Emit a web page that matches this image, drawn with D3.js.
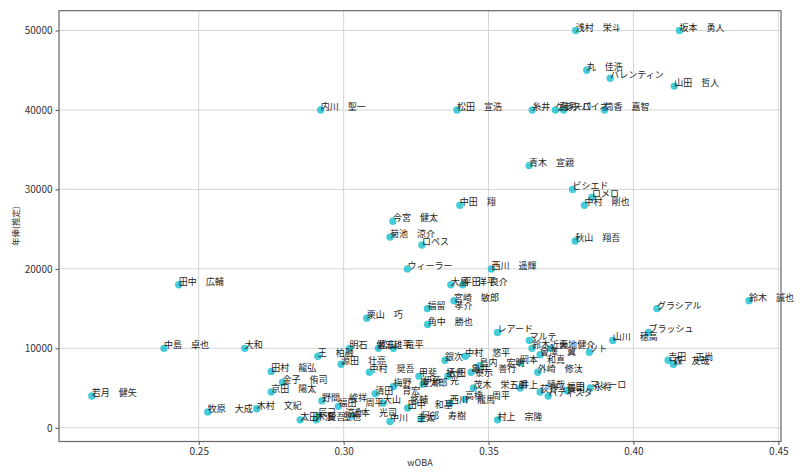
<!DOCTYPE html>
<html><head><meta charset="utf-8">
<script src="https://cdn.jsdelivr.net/npm/d3@7"></script>
<style>body{margin:0;background:#fff;} svg{display:block;}</style>
</head><body>
<svg id="chart" width="800" height="474"></svg>
<script>
const names = [
"浅村　栄斗","坂本　勇人","丸　佳浩","バレンティン","山田　哲人","内川　聖一","松田　宣浩","糸井　嘉男","ゲレーロ","デスパイネ",
"筒香　嘉智","青木　宣親","ビシエド","ロメロ","中村　剛也","中田　翔","今宮　健太","菊池　涼介","秋山　翔吾","ロペス",
"ウィーラー","西川　遥輝","田中　広輔","大島　洋平","平田　良介","宮崎　敏郎","鈴木　誠也","福留　孝介","グラシアル","栗山　巧",
"角中　勝也","ブラッシュ","レアード","マルテ","山川　穂高","中島　卓也","大和","明石　健志","松山　竜平","雄平",
"鈴木　大地","近藤　健介","會澤　翼","ソト","王　柏融","中村　悠平","銀次","吉田　正尚","森　友哉","源田　壮亮",
"岡本　和真","島内　宏明","田村　龍弘","中村　奨吾","亀井　善行","外崎　修汰","甲斐　拓也","大田　泰示","金子　侑司","伊藤　光",
"梅野　隆太郎","茂木　栄五郎","井上　晴哉","マレーロ","福田　永将","荻野　貴司","京田　陽太","清田　育宏","若月　健矢","バティスタ",
"高橋　周平","野間　峻祥","大山　悠輔","西川　龍馬","福田　周平","田中　和基","木村　文紀","牧原　大成","辰己　涼介","近本　光司",
"阿部　寿樹","太田　賢吾","木浪　聖也","村上　宗隆","中川　圭太"
];
const woba = [
0.3801,0.4159,0.3839,0.3920,0.4141,0.2921,0.3391,0.3651,0.3731,0.3759,
0.3900,0.3640,0.3790,0.3857,0.3831,0.3401,0.3170,0.3160,0.3799,0.3270,
0.3220,0.3510,0.2431,0.3370,0.3411,0.3381,0.4399,0.3289,0.4081,0.3080,
0.3290,0.4052,0.3531,0.3641,0.3929,0.2380,0.2659,0.3020,0.3120,0.3172,
0.3650,0.3713,0.3678,0.3848,0.2911,0.3420,0.3350,0.4120,0.4138,0.2991,
0.3609,0.3469,0.2750,0.3089,0.3440,0.3670,0.3260,0.3360,0.2789,0.3274,
0.3172,0.3448,0.3609,0.3851,0.3770,0.3678,0.2750,0.3109,0.2131,0.3706,
0.3419,0.2925,0.3136,0.3367,0.2982,0.3221,0.2700,0.2531,0.2912,0.3029,
0.3267,0.2850,0.2905,0.3531,0.3160
];
const salary = [
50000,50000,45000,44000,43000,40000,40000,40000,40000,40000,
40000,33000,30000,29000,28000,28000,26000,24000,23500,23000,
20000,20000,18000,18000,18000,16000,16000,15000,15000,13800,
13000,12000,12000,11000,11000,10000,10000,10000,10000,10000,
10000,10000,9200,9500,9000,9000,8500,8500,8000,8000,
8200,7800,7100,7000,7000,7000,6500,6500,5700,5500,
5200,5000,5000,5000,4700,4500,4500,4300,4000,4000,
3600,3400,3100,3100,2700,2500,2400,2000,1500,1500,
1100,1000,1000,1000,800
];
const xTicks = [0.25,0.30,0.35,0.40,0.45];
const yTicks = [0,10000,20000,30000,40000,50000];
const xLabel = "wOBA";
const yLabel = "年俸(推定)";

const svg = d3.select("#chart");
svg.append("rect").attr("width",800).attr("height",474).attr("fill","#fff");
const L=59,R=781,T=10.7,B=441.5;
const x = d3.scaleLinear().domain([0.20177,0.45093]).range([L,R]);
const y = d3.scaleLinear().domain([-1724,52492]).range([B,T]);
const font = "'Noto Sans CJK JP','Noto Sans',sans-serif";

// grid
const g = svg.append("g");
g.selectAll("line.gx").data(xTicks).join("line").attr("class","gx")
 .attr("x1",d=>x(d)).attr("x2",d=>x(d)).attr("y1",T).attr("y2",B)
 .attr("stroke","#d5d5d5").attr("stroke-width",1);
g.selectAll("line.gy").data(yTicks).join("line").attr("class","gy")
 .attr("y1",d=>y(d)).attr("y2",d=>y(d)).attr("x1",L).attr("x2",R)
 .attr("stroke","#d5d5d5").attr("stroke-width",1);

// axes
const xa = svg.append("g").attr("transform",`translate(0,${B})`)
 .call(d3.axisBottom(x).tickValues(xTicks).tickFormat(d3.format(".2f")).tickSize(3.5).tickPadding(3));
const ya = svg.append("g").attr("transform",`translate(${L},0)`)
 .call(d3.axisLeft(y).tickValues(yTicks).tickFormat(d3.format("d")).tickSize(3.5).tickPadding(3));
[xa,ya].forEach(a=>{
  a.select(".domain").remove();
  a.selectAll(".tick line").attr("stroke","#555");
  a.selectAll(".tick text").attr("fill","#333").style("font-family",font).style("font-size","10px");
});

// frame
svg.append("rect").attr("x",L).attr("y",T).attr("width",R-L).attr("height",B-T)
 .attr("fill","none").attr("stroke","#666").attr("stroke-width",1.2);

// points
const data = names.map((n,i)=>({n, w:woba[i], s:salary[i]}));
svg.append("g").selectAll("circle").data(data).join("circle")
 .attr("cx",d=>x(d.w)).attr("cy",d=>y(d.s)).attr("r",3.7)
 .attr("fill","#17becf").attr("fill-opacity",0.8);

// labels
svg.append("g").selectAll("text").data(data).join("text")
 .attr("x",d=>x(d.w)).attr("y",d=>y(d.s))
 .attr("fill","#1a1a1a").style("font-family",font).style("font-size","9px")
 .text(d=>d.n);

// axis labels
svg.append("text").attr("x",(L+R)/2).attr("y",466).attr("text-anchor","middle")
 .attr("fill","#333").style("font-family",font).style("font-size","9px").text(xLabel);
svg.append("text").attr("transform",`translate(19,${(T+B)/2}) rotate(-90)`).attr("text-anchor","middle")
 .attr("fill","#333").style("font-family",font).style("font-size","8.5px").text(yLabel);
</script>
</body></html>
